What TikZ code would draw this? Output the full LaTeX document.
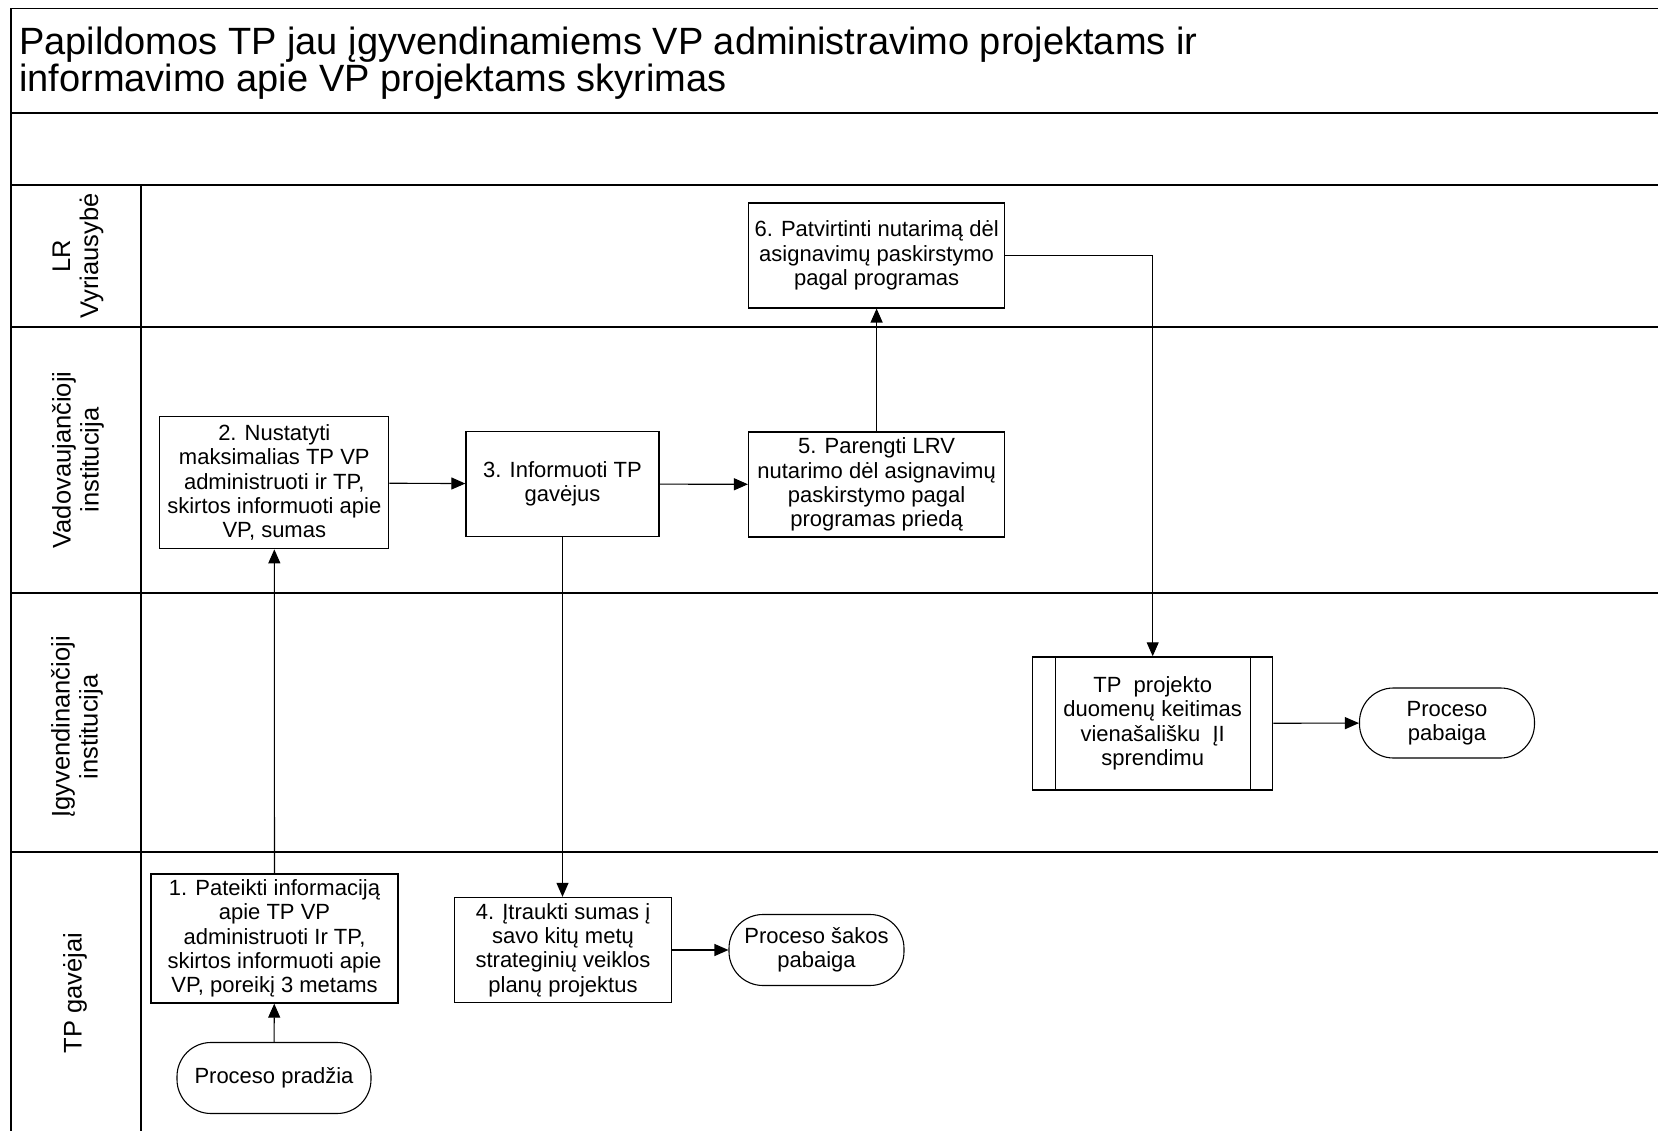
\documentclass[tikz,border=0pt]{standalone}
\usepackage{fontspec}
\setmainfont{Liberation Sans}
\usetikzlibrary{arrows.meta}

\begin{document}
\begin{tikzpicture}[x=1pt,y=-1pt,
  frame/.style={line width=1.8pt},
  stepbox/.style={draw, line width=1.3pt, align=center, inner sep=0pt,
    font=\fontsize{22}{24.3}\selectfont},
  term/.style={draw, line width=1.1pt, rounded corners=34pt, align=center,
    minimum width=175pt, minimum height=70pt, inner sep=0pt,
    font=\fontsize{22}{24.3}\selectfont},
  flow/.style={line width=1.1pt, -{Triangle[length=14pt,width=12pt]}},
  lanelabel/.style={rotate=90, align=center, inner sep=0pt,
    font=\fontsize{25.5}{28}\selectfont},
  titletext/.style={anchor=base west, inner sep=0pt,
    font=\fontsize{38}{38}\selectfont}
]
\useasboundingbox (0,0) rectangle (1658,1131);

% pool frame and swimlane separators
\draw[frame] (1658,8.5) -- (10.6,8.5) -- (10.6,1131);
\draw[frame] (10.6,113) -- (1658,113);
\draw[frame] (10.6,185) -- (1658,185);
\draw[frame] (10.6,327) -- (1658,327);
\draw[frame] (10.6,593) -- (1658,593);
\draw[frame] (10.6,852) -- (1658,852);
\draw[frame] (140.6,185) -- (140.6,1131);

% title
\node[titletext] (title1) at (19,55) {Papildomos TP jau įgyvendinamiems VP administravimo projektams ir};
\node[titletext] (title2) at (19,92) {informavimo apie VP projektams skyrimas};

% lane labels
\node[lanelabel] (laneLR) at (78,256) {LR\\Vyriausybė};
\node[lanelabel] (laneVI) at (78,460) {Vadovaujančioji\\institucija};
\node[lanelabel] (laneII) at (77,727) {Įgyvendinančioji\\institucija};
\node[lanelabel] (laneTP) at (75,993) {TP gavėjai};

% process steps
\node[stepbox, minimum width=247pt, minimum height=129pt] (s1) at (274.5,938.5)
  {1. Pateikti informaciją\\apie TP VP\\administruoti Ir TP,\\skirtos informuoti apie\\VP, poreikį 3 metams};
\node[stepbox, minimum width=229pt, minimum height=132pt] (s2) at (274.3,482.7)
  {2. Nustatyti\\maksimalias TP VP\\administruoti ir TP,\\skirtos informuoti apie\\VP, sumas};
\node[stepbox, minimum width=193pt, minimum height=105pt] (s3) at (562.5,484)
  {3. Informuoti TP\\gavėjus};
\node[stepbox, minimum width=217pt, minimum height=105pt] (s4) at (563,950)
  {4. Įtraukti sumas į\\savo kitų metų\\strateginių veiklos\\planų projektus};
\node[stepbox, minimum width=256pt, minimum height=105pt] (s5) at (876.6,484.5)
  {5. Parengti LRV\\nutarimo dėl asignavimų\\paskirstymo pagal\\programas priedą};
\node[stepbox, minimum width=256pt, minimum height=105pt] (s6) at (876.6,255.4)
  {6. Patvirtinti nutarimą dėl\\asignavimų paskirstymo\\pagal programas};

% predefined process (double side bars)
\node[stepbox, minimum width=240pt, minimum height=133pt] (s7) at (1152.7,723.4)
  {TP\ \ projekto\\duomenų keitimas\\vienašališku\ \ ĮI\\sprendimu};
\draw[line width=1.1pt] ([xshift=23pt]s7.north west) -- ([xshift=23pt]s7.south west);
\draw[line width=1.1pt] ([xshift=-23pt]s7.north east) -- ([xshift=-23pt]s7.south east);

% terminators
\node[term, minimum width=194pt, minimum height=71pt] (start) at (274,1078) {Proceso pradžia};
\node[term, minimum height=71pt] (branchend) at (816.5,950) {Proceso šakos\\pabaiga};
\node[term] (finish) at (1447,723) {Proceso\\pabaiga};

% flow connectors
\draw[flow] (start) -- (s1);
\draw[flow] (s1) -- (s2);
\draw[flow] (s2) -- (s3);
\draw[flow] (s3.south) -- (s3.south |- s4.north);
\draw[flow] (s3) -- (s5);
\draw[flow] (s5) -- (s6);
\draw[flow] (s6.east) -| (s7.north);
\draw[flow] (s7) -- (finish);
\draw[flow] (s4) -- (branchend);
\end{tikzpicture}
\end{document}
